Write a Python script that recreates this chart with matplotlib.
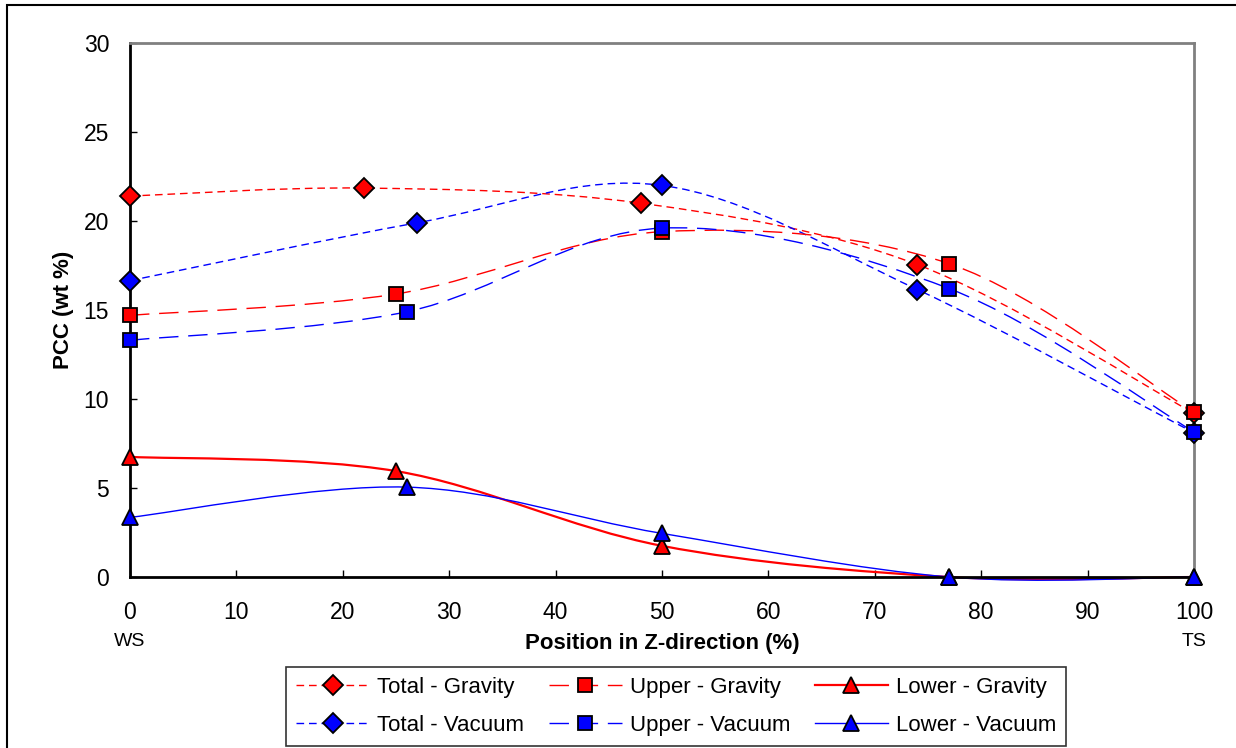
import matplotlib
matplotlib.use("Agg")
import matplotlib.pyplot as plt
import numpy as np
from matplotlib.lines import Line2D
from matplotlib.patches import PathPatch, Rectangle
from matplotlib.path import Path

plt.rcParams["font.family"] = ["Liberation Sans", "DejaVu Sans"]

# position across the sample (%) and PCC (wt %) for each series
total_gravity_x = [0, 22, 48, 74, 100]
total_gravity_y = [21.4, 21.85, 21.0, 17.55, 9.2]
total_vacuum_x = [0, 27, 50, 74, 100]
total_vacuum_y = [16.65, 19.9, 22.0, 16.15, 8.1]
upper_gravity_x = [0, 25, 50, 77, 100]
upper_gravity_y = [14.7, 15.9, 19.4, 17.6, 9.25]
upper_vacuum_x = [0, 26, 50, 77, 100]
upper_vacuum_y = [13.3, 14.9, 19.6, 16.2, 8.15]
lower_gravity_x = [0, 25, 50, 77, 100]
lower_gravity_y = [6.75, 5.95, 1.75, 0.0, 0.0]
lower_vacuum_x = [0, 26, 50, 77, 100]
lower_vacuum_y = [3.35, 5.05, 2.45, 0.0, 0.0]

x_ticks = list(range(0, 101, 10))
y_ticks = list(range(0, 31, 5))

RED = "#ff0000"
BLUE = "#0000ff"
SHORT_DASH = (5.5, 3.5)
LONG_DASH = (14, 7)


def smooth_path(xs, ys):
    """Bezier path through the points, Excel-style smoothed line."""
    pts = np.column_stack([xs, ys]).astype(float)
    n = len(pts)
    verts = [pts[0]]
    codes = [Path.MOVETO]
    for i in range(n - 1):
        p_prev = pts[max(i - 1, 0)]
        p0, p1 = pts[i], pts[i + 1]
        p_next = pts[min(i + 2, n - 1)]
        c1 = p0 + (p1 - p_prev) / 6.0
        c2 = p1 - (p_next - p0) / 6.0
        verts += [c1, c2, p1]
        codes += [Path.CURVE4] * 3
    return Path(verts, codes)


fig = plt.figure(figsize=(12.36, 7.48), dpi=100)
ax = fig.add_axes([130 / 1236, 1 - 577 / 748, (1194 - 130) / 1236, (577 - 43) / 748])

series = [
    ("Total - Gravity", total_gravity_x, total_gravity_y, RED, "D", SHORT_DASH, 1.0, 10.5),
    ("Total - Vacuum", total_vacuum_x, total_vacuum_y, BLUE, "D", SHORT_DASH, 1.0, 10.5),
    ("Upper - Gravity", upper_gravity_x, upper_gravity_y, RED, "s", LONG_DASH, 1.0, 9.5),
    ("Upper - Vacuum", upper_vacuum_x, upper_vacuum_y, BLUE, "s", LONG_DASH, 1.0, 9.5),
    ("Lower - Gravity", lower_gravity_x, lower_gravity_y, RED, "^", None, 1.6, 11),
    ("Lower - Vacuum", lower_vacuum_x, lower_vacuum_y, BLUE, "^", None, 1.0, 11),
]

handles = []
for label, xs, ys, colour, marker, dashes, lw, ms in series:
    patch = PathPatch(smooth_path(xs, ys), facecolor="none", edgecolor=colour,
                      lw=lw, zorder=2, clip_on=False)
    if dashes is not None:
        patch.set_linestyle((0, dashes))
    ax.add_patch(patch)
    ax.plot(xs, ys, linestyle="none", marker=marker, markersize=ms,
            markerfacecolor=colour, markeredgecolor="black", markeredgewidth=1.3,
            zorder=4, clip_on=False)
    handle = Line2D([], [], color=colour, lw=lw, marker=marker, markersize=ms,
                    markerfacecolor=colour, markeredgecolor="black", markeredgewidth=1.3)
    if dashes is not None:
        handle.set_dashes(dashes)
    handles.append((handle, label))

ax.set_xlim(0, 100)
ax.set_ylim(0, 30)
ax.set_xticks(x_ticks)
ax.set_yticks(y_ticks)
ax.tick_params(direction="in", length=5, width=1, labelsize=16.5)
ax.tick_params(axis="x", pad=17)
ax.tick_params(axis="y", pad=15)
for side in ("left", "bottom"):
    ax.spines[side].set_color("black")
    ax.spines[side].set_linewidth(2)
for side in ("top", "right"):
    ax.spines[side].set_color("#808080")
    ax.spines[side].set_linewidth(2)

ax.set_ylabel("PCC (wt %)", fontsize=16, fontweight="bold")
ax.set_xlabel("Position in Z-direction (%)", fontsize=16, fontweight="bold")
ax.xaxis.set_label_coords(0.5, -0.104)
ax.yaxis.set_label_coords(-0.053, 0.5)

ax.text(0, -0.12, "WS", transform=ax.get_xaxis_transform(), ha="center", va="center",
        fontsize=14)
ax.text(1, -0.12, "TS", transform=ax.transAxes, ha="center", va="center", fontsize=14)

leg = fig.legend([h for h, _ in handles], [l for _, l in handles], ncol=3,
                 loc="upper left", bbox_to_anchor=(286 / 1236, 1 - 667 / 748),
                 fontsize=16, frameon=True, fancybox=False, edgecolor="black",
                 handlelength=3.3, columnspacing=1.1, handletextpad=0.35,
                 borderpad=0.45, labelspacing=0.75, borderaxespad=0)
leg.get_frame().set_linewidth(1.2)

# outer chart border
fig.add_artist(Rectangle((7 / 1236, -0.1), 1.2, 1 - 5 / 748 + 0.1,
                         transform=fig.transFigure, fill=False, edgecolor="black",
                         lw=1.5))

fig.savefig("out.png", dpi=100)
